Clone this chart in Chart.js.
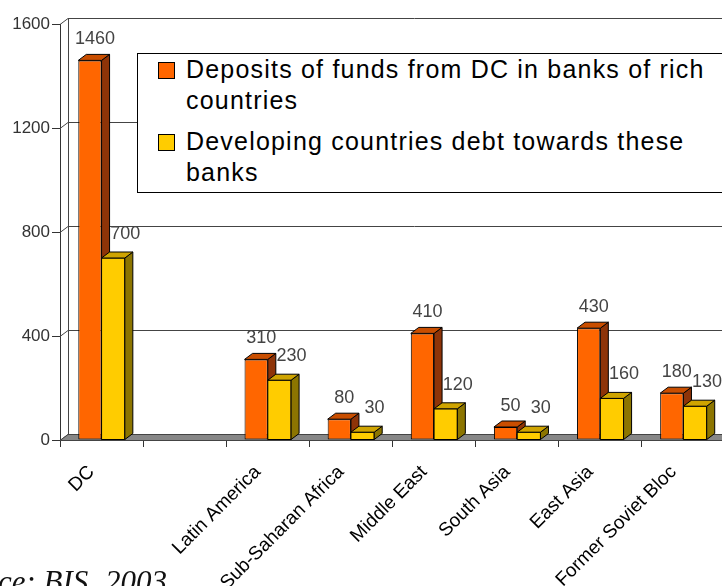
<!DOCTYPE html>
<html>
<head>
<meta charset="utf-8">
<script src="https://cdn.jsdelivr.net/npm/chart.js@4"></script>
<style>
  html, body { margin: 0; padding: 0; overflow: hidden; background: #fff; width: 722px; height: 586px; }
  #wrap { position: absolute; left: 0; top: 0; width: 760px; height: 586px; }
  #legend { position: absolute; left: 137px; top: 53px; width: 640px; height: 138px; border: 1px solid #000; background: #fff;
            font-family: "Liberation Sans", Arial, sans-serif; font-size: 25px; letter-spacing: 1.2px; line-height: 31px; color: #000; }
  .item { position: absolute; left: 48px; white-space: nowrap; }
  .sw { position: absolute; left: -28px; top: 8px; width: 15px; height: 15px; border: 1px solid #000; }
  #source { position: absolute; left: -2px; top: 566px; font-family: "Liberation Serif", "Times New Roman", serif;
            font-style: italic; font-size: 31px; line-height: 31px; color: #111; white-space: nowrap; }
</style>
</head>
<body>
<div id="wrap"><canvas id="chart"></canvas></div>
<div id="legend">
  <div class="item" style="top:0px"><span class="sw" style="background:#FF6600"></span>Deposits of funds from DC in banks of rich<br>countries</div>
  <div class="item" style="top:72px"><span class="sw" style="background:#FFCC00"></span>Developing countries debt towards these<br>banks</div>
</div>
<div id="source">ce: BIS <span style="margin-left:9px">2003</span></div>
<script>
// data
const categories = ['DC', '', 'Latin America', 'Sub-Saharan Africa', 'Middle East', 'South Asia', 'East Asia', 'Former Soviet Bloc'];
const deposits = [1460, null, 310, 80, 410, 50, 430, 180];
const debt = [700, null, 230, 30, 120, 30, 160, 130];
const yTicks = [0, 400, 800, 1200, 1600];

// 3D depth of the box
const DX = 8, DY = -6;

const faces = [
    { front: '#FF6600', side: '#8E3408', top: '#C94E00', labelDx: 5, labelDy: -21 },
    { front: '#FFCC00', side: '#8C7500', top: '#CFA400', labelDx: 12, labelDy: -24 }
];

function poly(ctx, pts, fill) {
    ctx.beginPath();
    ctx.moveTo(pts[0][0], pts[0][1]);
    for (let i = 1; i < pts.length; i++) ctx.lineTo(pts[i][0], pts[i][1]);
    ctx.closePath();
    ctx.fillStyle = fill;
    ctx.fill();
    ctx.stroke();
}

// side and top faces of one bar, optionally its front too
function drawBox(ctx, bar, f, withFront) {
    const p = bar.getProps(['x', 'y', 'base', 'width'], true);
    const l = p.x - p.width / 2, r = p.x + p.width / 2;
    if (withFront) poly(ctx, [[l, p.y], [r, p.y], [r, p.base], [l, p.base]], f.front);
    poly(ctx, [[r, p.y], [r + DX, p.y + DY], [r + DX, p.base + DY], [r, p.base]], f.side);
    poly(ctx, [[l, p.y], [l + DX, p.y + DY], [r + DX, p.y + DY], [r, p.y]], f.top);
}

// back wall, gridlines, floor and the 3D faces of the bars
const wallPlugin = {
    id: 'wall',
    beforeDatasetsDraw(chart) {
        const ctx = chart.ctx, a = chart.chartArea, y = chart.scales.y;
        ctx.save();
        ctx.lineWidth = 1;
        ctx.strokeStyle = '#444';
        const yTop = y.getPixelForValue(yTicks[yTicks.length - 1]);
        ctx.beginPath();
        ctx.moveTo(a.left + DX + 0.5, yTop + DY);
        ctx.lineTo(a.left + DX + 0.5, a.bottom + DY);
        ctx.stroke();
        yTicks.forEach(v => {
            const py = Math.round(y.getPixelForValue(v)) + 0.5;
            ctx.beginPath();
            ctx.moveTo(a.left, py);
            ctx.lineTo(a.left + DX, py + DY);
            if (v > 0) ctx.lineTo(a.right + DX + 40, py + DY);
            ctx.stroke();
        });
        const b = Math.round(a.bottom) + 0.5;
        poly(ctx, [[a.left, b], [a.right + 40, b], [a.right + 40 + DX, b + DY], [a.left + DX, b + DY]], '#878787');
        ctx.restore();
    },
    afterDatasetsDraw(chart) {
        const ctx = chart.ctx;
        const metas = [chart.getDatasetMeta(0), chart.getDatasetMeta(1)];
        ctx.save();
        ctx.lineWidth = 1;
        ctx.strokeStyle = '#000';
        categories.forEach((c, i) => {
            if (deposits[i] !== null) drawBox(ctx, metas[0].data[i], faces[0], false);
            if (debt[i] !== null) drawBox(ctx, metas[1].data[i], faces[1], true);
        });
        ctx.font = '18px "Liberation Sans", Arial, sans-serif';
        ctx.fillStyle = '#444';
        ctx.textAlign = 'center';
        ctx.textBaseline = 'middle';
        chart.data.datasets.forEach((ds, di) => {
            const f = faces[di];
            metas[di].data.forEach((bar, i) => {
                if (ds.data[i] === null) return;
                ctx.fillText(String(ds.data[i]), bar.x + f.labelDx, bar.y + f.labelDy);
            });
        });
        ctx.restore();
    }
};

new Chart(document.getElementById('chart').getContext('2d'), {
    type: 'bar',
    data: {
        labels: categories,
        datasets: [
            { label: 'Deposits of funds from DC in banks of rich countries', data: deposits, backgroundColor: faces[0].front,
              borderColor: '#000', borderWidth: 1, borderSkipped: false },
            { label: 'Developing countries debt towards these banks', data: debt, backgroundColor: faces[1].front,
              borderColor: '#000', borderWidth: 1, borderSkipped: false }
        ]
    },
    options: {
        responsive: true,
        maintainAspectRatio: false,
        animation: false,
        categoryPercentage: 0.56,
        barPercentage: 1,
        layout: { padding: { top: 24, right: 35, left: 0, bottom: 0 } },
        plugins: {
            legend: { display: false },
            tooltip: { enabled: false }
        },
        scales: {
            x: {
                grid: { drawOnChartArea: false, tickLength: 7, color: '#333' },
                border: { color: '#333' },
                ticks: {
                    autoSkip: false,
                    minRotation: 45,
                    maxRotation: 45,
                    padding: 14,
                    labelOffset: -10,
                    color: '#000',
                    font: { family: '"Liberation Sans", Arial, sans-serif', size: 19 }
                },
                afterFit: s => { s.height = 146; }
            },
            y: {
                min: 0,
                max: 1600,
                afterBuildTicks: s => { s.ticks = yTicks.map(v => ({ value: v })); },
                grid: { drawOnChartArea: false, tickLength: 8, color: '#333' },
                border: { color: '#333' },
                ticks: {
                    padding: 2,
                    color: '#333',
                    callback: v => String(v),
                    font: { family: '"Liberation Sans", Arial, sans-serif', size: 17 }
                },
                afterFit: s => { s.width = 60; }
            }
        }
    },
    plugins: [wallPlugin]
});
</script>
</body>
</html>
